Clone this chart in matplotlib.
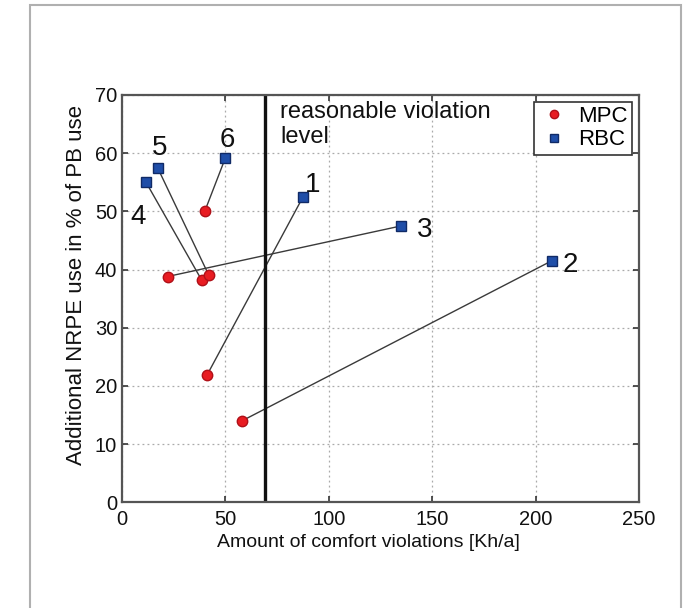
import numpy as np
import matplotlib
matplotlib.use("Agg")
import matplotlib.pyplot as plt
from matplotlib.patches import Rectangle

plt.rcParams['font.family'] = ['Liberation Sans', 'DejaVu Sans']

# cases 1..6: MPC result and RBC result
case_ids = ['1', '2', '3', '4', '5', '6']
mpc_x = [41.0, 58.0, 22.0, 38.5, 42.0, 40.0]
mpc_y = [21.8, 14.0, 38.8, 38.2, 39.0, 50.0]
rbc_x = [87.4, 207.8, 135.0, 11.6, 17.2, 50.0]
rbc_y = [52.4, 41.5, 47.5, 55.0, 57.5, 59.2]
# where the case number goes
label_x = [92.0, 217.0, 146.5, 8.0, 18.2, 50.8]
label_y = [54.6, 40.8, 46.8, 49.1, 60.9, 62.3]

violation_limit = 69

fig = plt.figure(figsize=(6.91, 6.08), dpi=100)
ax = fig.add_axes([0.1766, 0.1738, 0.7481, 0.67])

# outer grey frame (open at the bottom)
fig.patches.append(Rectangle((30 / 691, -0.1), 651 / 691, 1 - 5 / 608 + 0.1,
                             transform=fig.transFigure, fill=False,
                             edgecolor='#b0b0b0', lw=1.5, clip_on=False))

for i in range(len(case_ids)):
    ax.plot([mpc_x[i], rbc_x[i]], [mpc_y[i], rbc_y[i]], color='#3a3a3a', lw=1.0, zorder=2)

ax.plot(mpc_x, mpc_y, 'o', ls='none', color='#e81c22', mec='#b01018', ms=7.5, label='MPC', zorder=3)
ax.plot(rbc_x, rbc_y, 's', ls='none', color='#1f4ea8', mec='#102a66', ms=7, label='RBC', zorder=3)

for t, lx, ly in zip(case_ids, label_x, label_y):
    ax.text(lx, ly, t, fontsize=20, ha='center', va='center', color='#111111')

ax.axvline(violation_limit, color='#111111', lw=2.4, zorder=2)
ax.text(76.5, 69.0, 'reasonable violation\nlevel', fontsize=17, ha='left', va='top',
        color='#111111', linespacing=1.2)

ax.set_xlim(0, 250)
ax.set_ylim(0, 70)
ax.set_xticks(np.arange(0, 251, 50))
ax.set_yticks(np.arange(0, 71, 10))
ax.grid(True, ls=(0, (1.5, 2.5)), color='#aaaaaa', lw=0.9)
ax.tick_params(direction='in', top=True, right=True, length=4, width=1.2,
               labelsize=14.5, colors='#333333', labelcolor='#111111', pad=3.5)
ax.tick_params(axis='x', pad=5.5)
for s in ax.spines.values():
    s.set_color('#555555')
    s.set_linewidth(1.6)

ax.set_xlabel('Amount of comfort violations [Kh/a]', fontsize=14, color='#111111')
ax.set_ylabel('Additional NRPE use in % of PB use', fontsize=16, color='#111111')
ax.xaxis.set_label_coords(0.476, -0.077)
ax.yaxis.set_label_coords(-0.068, 0.534)

leg = ax.legend(loc='upper right', fontsize=16, fancybox=False, framealpha=1,
                edgecolor='#333333', borderaxespad=0.3, handletextpad=0.4,
                handlelength=1.4, borderpad=0.2, labelspacing=0.1, markerscale=0.8)
leg.get_frame().set_linewidth(1.2)

fig.savefig('out.png', dpi=100)
